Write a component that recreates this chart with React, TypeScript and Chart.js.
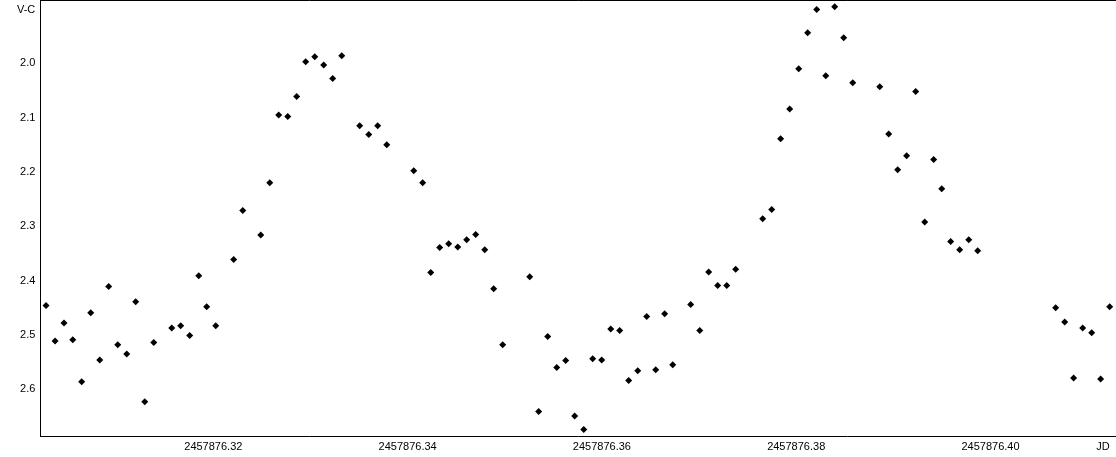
import React, { useEffect, useRef } from "react";
import { Chart, registerables } from "chart.js";

Chart.register(...registerables);

// Julian Date of each observation
const jd: number[] = [
  2457876.30278, 2457876.30371, 2457876.30463, 2457876.30553, 2457876.30645,
  2457876.30738, 2457876.30831, 2457876.30923, 2457876.31016, 2457876.31109,
  2457876.31201, 2457876.31294, 2457876.31387, 2457876.31572, 2457876.31664,
  2457876.31757, 2457876.3185, 2457876.31932, 2457876.32025, 2457876.3221,
  2457876.32303, 2457876.32488, 2457876.32581, 2457876.32673, 2457876.32766,
  2457876.32858, 2457876.32951, 2457876.33044, 2457876.33136, 2457876.33229,
  2457876.33322, 2457876.33507, 2457876.336, 2457876.33692, 2457876.33785,
  2457876.34063, 2457876.34155, 2457876.34238, 2457876.3433, 2457876.34423,
  2457876.34516, 2457876.34608, 2457876.34701, 2457876.34794, 2457876.34886,
  2457876.34979, 2457876.35257, 2457876.35349, 2457876.35442, 2457876.35535,
  2457876.35627, 2457876.3572, 2457876.35813, 2457876.35905, 2457876.35998,
  2457876.36091, 2457876.36183, 2457876.36276, 2457876.36369, 2457876.36461,
  2457876.36554, 2457876.36646, 2457876.36729, 2457876.36914, 2457876.37007,
  2457876.37099, 2457876.37192, 2457876.37285, 2457876.37377, 2457876.37655,
  2457876.37748, 2457876.3784, 2457876.37933, 2457876.38026, 2457876.38118,
  2457876.38211, 2457876.38304, 2457876.38396, 2457876.38489, 2457876.38582,
  2457876.3886, 2457876.38952, 2457876.39045, 2457876.39137, 2457876.3923,
  2457876.39323, 2457876.39415, 2457876.39498, 2457876.3959, 2457876.39683,
  2457876.39776, 2457876.39868, 2457876.40671, 2457876.40764, 2457876.40856,
  2457876.40949, 2457876.41042, 2457876.41134, 2457876.41227,
];

// V-C differential magnitude
const vc: number[] = [
  2.446, 2.511, 2.478, 2.509, 2.586,
  2.459, 2.546, 2.411, 2.518, 2.535,
  2.439, 2.623, 2.514, 2.487, 2.483,
  2.501, 2.391, 2.448, 2.483, 2.361,
  2.271, 2.316, 2.22, 2.095, 2.098,
  2.061, 1.997, 1.988, 2.003, 2.028,
  1.986, 2.115, 2.131, 2.115, 2.15,
  2.198, 2.22, 2.385, 2.339, 2.332,
  2.338, 2.325, 2.315, 2.343, 2.415,
  2.518, 2.393, 2.641, 2.503, 2.56,
  2.547, 2.649, 2.674, 2.544, 2.546,
  2.489, 2.492, 2.584, 2.566, 2.466,
  2.564, 2.461, 2.555, 2.444, 2.492,
  2.384, 2.409, 2.409, 2.379, 2.286,
  2.269, 2.139, 2.084, 2.01, 1.944,
  1.901, 2.023, 1.896, 1.953, 2.036,
  2.043, 2.13, 2.196, 2.17, 2.052,
  2.292, 2.177, 2.231, 2.328, 2.343,
  2.325, 2.345, 2.45, 2.476, 2.579,
  2.487, 2.496, 2.581, 2.448,
];

const xTicks: number[] = [2457876.32, 2457876.34, 2457876.36, 2457876.38, 2457876.4];
const yTicks: number[] = [2.0, 2.1, 2.2, 2.3, 2.4, 2.5, 2.6];

const X_MIN = 2457876.30219;
const X_MAX = 2457876.41292;
const Y_MIN = 1.8835;
const Y_MAX = 2.6869;

const yTitle = "V-C";
const xTitle = "JD";

const FONT = '"Liberation Sans", Arial, sans-serif';

const framePlugin = {
  id: "frameAndTitles",
  afterDraw(chart: any) {
    const { ctx, chartArea: a } = chart;
    ctx.save();
    ctx.strokeStyle = "#000";
    ctx.lineWidth = 1;
    ctx.beginPath();
    ctx.moveTo(a.left, a.top + 0.5);
    ctx.lineTo(a.right, a.top + 0.5);
    ctx.stroke();
    ctx.fillStyle = "#000";
    ctx.font = `11px ${FONT}`;
    ctx.textBaseline = "middle";
    ctx.textAlign = "right";
    ctx.fillText(yTitle, a.left - 5, 10);
    ctx.textAlign = "center";
    ctx.fillText(xTitle, a.right - 13, a.bottom + 10);
    ctx.restore();
  },
};

export default function App() {
  const ref = useRef<HTMLCanvasElement | null>(null);

  useEffect(() => {
    document.body.style.margin = "0";
    const canvas = ref.current;
    if (!canvas) return;
    const chart = new Chart(canvas, {
      type: "scatter",
      data: {
        datasets: [
          {
            data: jd.map((x, i) => ({ x, y: vc[i] })),
            pointStyle: "rectRot",
            pointRadius: 3.5,
            pointHoverRadius: 3.5,
            backgroundColor: "#000",
            borderColor: "#000",
            borderWidth: 0,
            clip: false as any,
          },
        ],
      },
      options: {
        animation: false,
        responsive: false,
        maintainAspectRatio: false,
        layout: { padding: 0, autoPadding: false },
        plugins: {
          legend: { display: false },
          tooltip: { enabled: false },
          title: { display: false },
        },
        scales: {
          x: {
            type: "linear",
            min: X_MIN,
            max: X_MAX,
            grid: { display: false, drawTicks: false },
            border: { display: true, color: "#000", width: 1 },
            ticks: {
              color: "#000",
              font: { family: FONT, size: 11 },
              padding: 4,
              maxRotation: 0,
              autoSkip: false,
              callback: (v: any) => Number(v).toFixed(2),
            },
            afterBuildTicks: (scale: any) => {
              scale.ticks = xTicks.map((value) => ({ value }));
            },
            afterFit: (scale: any) => {
              scale.height = 20.5;
              scale.paddingLeft = 0;
              scale.paddingRight = 0;
            },
          },
          y: {
            type: "linear",
            reverse: true,
            min: Y_MIN,
            max: Y_MAX,
            grid: { display: false, drawTicks: false },
            border: { display: true, color: "#000", width: 1 },
            ticks: {
              color: "#000",
              font: { family: FONT, size: 11 },
              padding: 5,
              autoSkip: false,
              callback: (v: any) => Number(v).toFixed(1),
            },
            afterBuildTicks: (scale: any) => {
              scale.ticks = yTicks.map((value) => ({ value }));
            },
            afterFit: (scale: any) => {
              scale.width = 40.3;
              scale.paddingTop = 0;
              scale.paddingBottom = 0;
            },
          },
        },
      },
      plugins: [framePlugin],
    });
    return () => chart.destroy();
  }, []);

  return (
    <div style={{ width: 1116, height: 457, background: "#fff" }}>
      <canvas ref={ref} width={1116} height={457} style={{ display: "block" }} />
    </div>
  );
}
